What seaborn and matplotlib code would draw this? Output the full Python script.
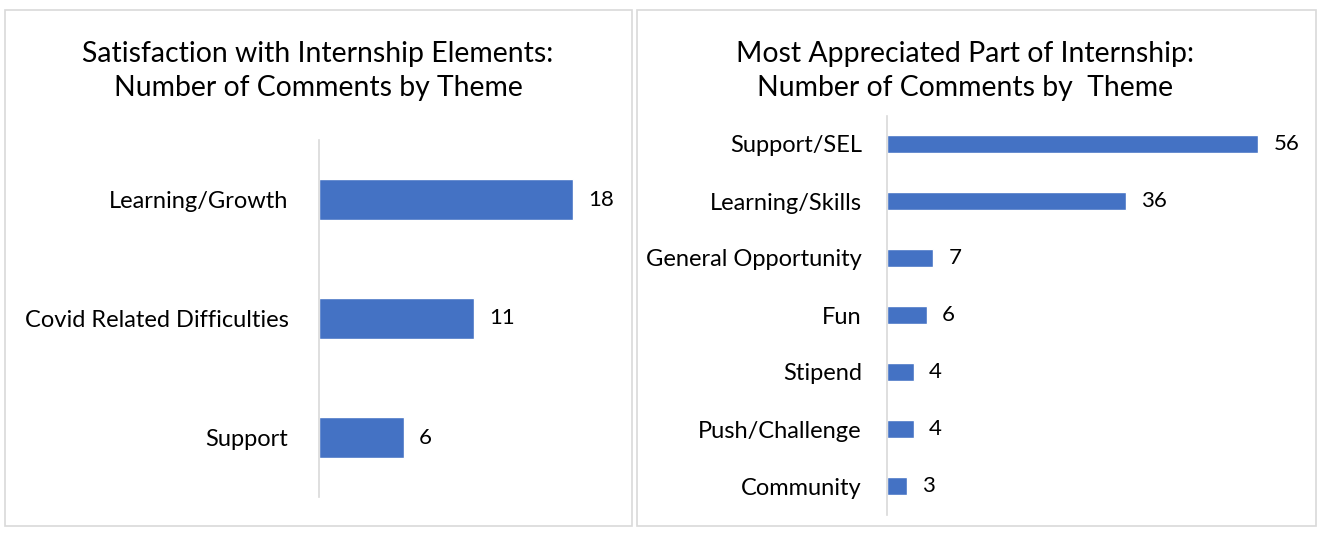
import matplotlib
matplotlib.use("Agg")
import matplotlib.pyplot as plt
import seaborn as sns
import pandas as pd
from matplotlib.patches import Rectangle

sns.set_theme(style="white")
plt.rcParams['font.family'] = ['Lato', 'DejaVu Sans']

left_cats = ["Learning/Growth", "Covid Related Difficulties", "Support"]
left_vals = [18, 11, 6]
right_cats = ["Support/SEL", "Learning/Skills", "General Opportunity", "Fun",
              "Stipend", "Push/Challenge", "Community"]
right_vals = [56, 36, 7, 6, 4, 4, 3]
left_title = "Satisfaction with Internship Elements:\nNumber of Comments by Theme"
right_title = "Most Appreciated Part of Internship:\nNumber of Comments by  Theme"

W, H = 1330, 536
fig = plt.figure(figsize=(W / 100, H / 100), dpi=100)
BAR = "#4472C4"
GRID = "#d9d9d9"
TXT = "#000000"

def px(x0, y0, w, h):
    return [x0 / W, (H - y0 - h) / H, w / W, h / H]

# panel frames
for (x0, x1) in [(5, 632), (637, 1316)]:
    fig.patches.append(Rectangle((x0 / W, 10 / H), (x1 - x0) / W, (526 - 10) / H,
                                 transform=fig.transFigure, fill=False,
                                 edgecolor=GRID, linewidth=1.2))

def panel(rect, cats, vals, xmax, width, pad_lbl, tick_pad):
    ax = fig.add_axes(rect)
    df = pd.DataFrame({"cat": cats, "val": vals})
    sns.barplot(data=df, y="cat", x="val", orient="h", color=BAR,
                width=width, saturation=1, ax=ax)
    ax.set_xlim(0, xmax)
    ax.set_xlabel("")
    ax.set_ylabel("")
    ax.set_xticks([])
    for s in ["top", "right", "bottom"]:
        ax.spines[s].set_visible(False)
    ax.spines["left"].set_color(GRID)
    ax.spines["left"].set_linewidth(1.2)
    ax.tick_params(axis="y", length=0, pad=tick_pad, labelsize=17, labelcolor=TXT)
    ax.patch.set_alpha(0)
    ax.bar_label(ax.containers[0], padding=pad_lbl, fontsize=16, color=TXT)
    return ax

panel(px(319, 140, 282, 357), left_cats, left_vals, 20, 0.345, 11, 22)
panel(px(887, 115.5, 398, 399), right_cats, right_vals, 60, 0.33, 11, 18)

fig.text(318 / W, (H - 71) / H, left_title, ha="center", va="center",
         fontsize=20.4, linespacing=1.42, color=TXT)
fig.text(965 / W, (H - 71) / H, right_title, ha="center", va="center",
         fontsize=20.4, linespacing=1.42, color=TXT)

fig.savefig("out.png", dpi=100)
